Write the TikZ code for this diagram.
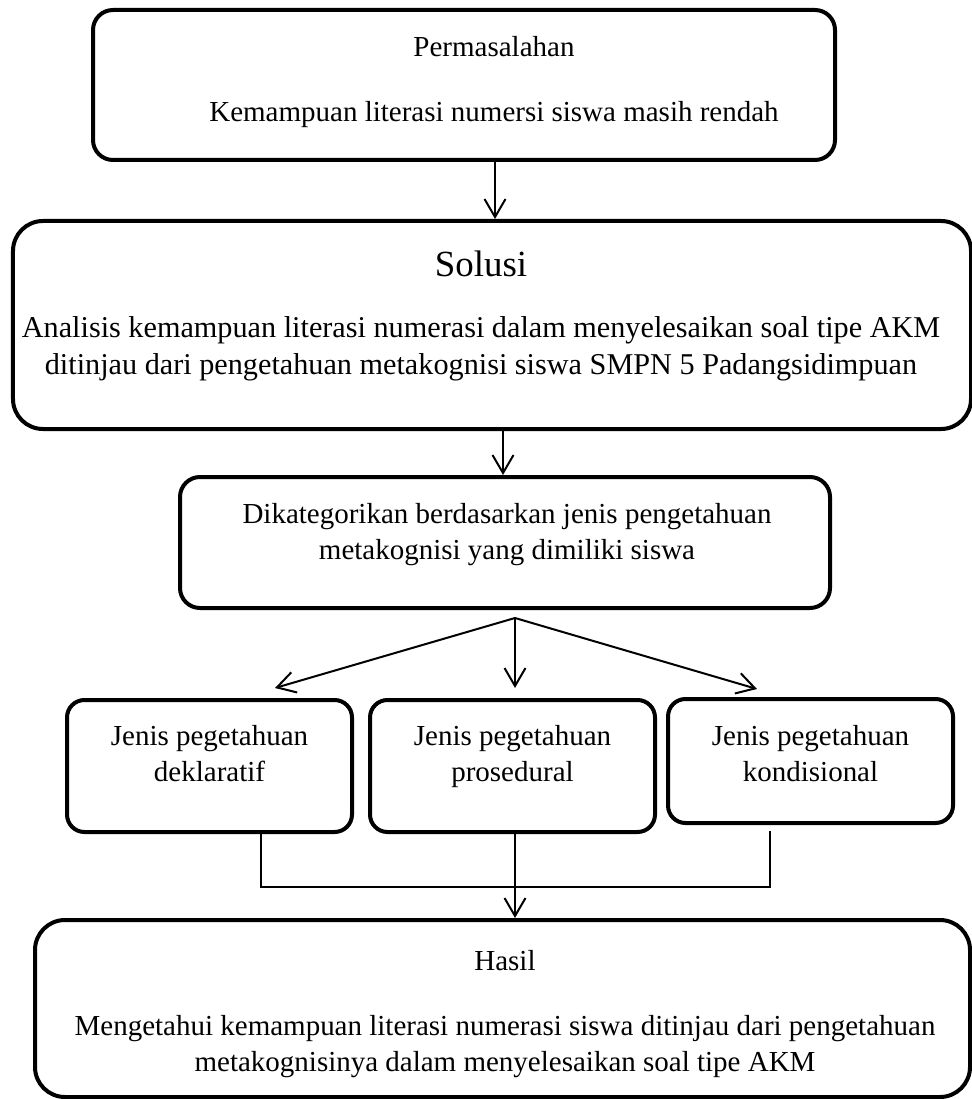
\documentclass[tikz,border=0pt]{standalone}
\usepackage{fontspec}
\setmainfont{Liberation Serif}
\usepackage{tikz}
\usetikzlibrary{arrows.meta}
\tikzset{
box/.style = {rectangle, draw=black, line width=0.08cm, rounded corners=#1,
              inner sep=0pt},
box/.default = 0.4cm % corner radius
}
\tikzset{
txt/.style = {align=center, inner sep=0pt}
}
\tikzset{
link/.style = {line width=0.04cm, -{Straight Barb[length=0.36cm, width=0.42cm, line width=0.04cm]}}
}

\begin{document}
\begin{tikzpicture}[font=\fontsize{16.5pt}{20.5pt}\selectfont]
  \useasboundingbox (0,0) rectangle (19.44,-21.98);
  % Boxes
    \node[box, minimum width=14.84cm, minimum height=3cm] (problemBox) at (9.28,-1.7) {};
    \node[box=0.6cm, minimum width=19.16cm, minimum height=4.16cm] (solutionBox) at (9.84,-6.5) {};
    \node[box, minimum width=13cm, minimum height=2.62cm] (categoryBox) at (10.1,-10.85) {};
    \node[box=0.35cm, minimum width=5.7cm, minimum height=2.64cm] (declBox) at (4.19,-15.32) {};
    \node[box=0.35cm, minimum width=5.7cm, minimum height=2.64cm] (procBox) at (10.25,-15.32) {};
    \node[box=0.35cm, minimum width=5.7cm, minimum height=2.48cm] (condBox) at (16.21,-15.22) {};
    \node[box=0.6cm, minimum width=18.7cm, minimum height=3.54cm] (resultBox) at (10.05,-20.17) {};

  % Texts
    \node[txt] (problemText) at (9.88,-1.64)
      {Permasalahan\\[0.58cm]Kemampuan literasi numersi siswa masih rendah};
    \node[txt, font=\fontsize{17.2pt}{21pt}\selectfont] (solutionText) at (9.62,-6.32)
      {{\fontsize{21pt}{24pt}\selectfont Solusi}\\[0.48cm]Analisis kemampuan literasi numerasi dalam menyelesaikan soal tipe AKM\\ditinjau dari pengetahuan metakognisi siswa SMPN 5 Padangsidimpuan};
    \node[txt] (categoryText) at (10.14,-10.7)
      {Dikategorikan berdasarkan jenis pengetahuan\\metakognisi yang dimiliki siswa};
    \node[txt, anchor=north] (declText) at (4.19,-14.5) {Jenis pegetahuan\\deklaratif};
    \node[txt, anchor=north] (procText) at (10.25,-14.5) {Jenis pegetahuan\\prosedural};
    \node[txt, anchor=north] (condText) at (16.21,-14.5) {Jenis pegetahuan\\kondisional};
    \node[txt] (resultText) at (10.1,-20.28)
      {Hasil\\[0.58cm]Mengetahui kemampuan literasi numerasi siswa ditinjau dari pengetahuan\\metakognisinya dalam menyelesaikan soal tipe AKM};

  % Points
    \coordinate (firstDrop) at (9.9,-3.3);
    \coordinate (secondDrop) at (10.06,-9);
    \coordinate (branchPoint) at (10.3,-12.36);
    \coordinate (declTip) at (5.5,-13.76);
    \coordinate (procTip) at (10.3,-13.76);
    \coordinate (condTip) at (15.14,-13.78);
    \coordinate (leftJoin) at (5.22,-17.74);
    \coordinate (rightTop) at (15.4,-16.62);
    \coordinate (rightJoin) at (15.4,-17.74);

  % Lines
    \draw[link] (problemBox.south -| firstDrop) -- (solutionBox.north -| firstDrop);
    \draw[link] (solutionBox.south -| secondDrop) -- (categoryBox.north -| secondDrop);
    \draw[link] (branchPoint) -- (declTip);
    \draw[link] (branchPoint) -- (procTip);
    \draw[link] (branchPoint) -- (condTip);
    \draw[line width=0.035cm] (declBox.south -| leftJoin) -- (leftJoin) -- (rightJoin) -- (rightTop);
    \draw[link] (procBox.south -| branchPoint) -- (resultBox.north -| branchPoint);
\end{tikzpicture}
\end{document}
